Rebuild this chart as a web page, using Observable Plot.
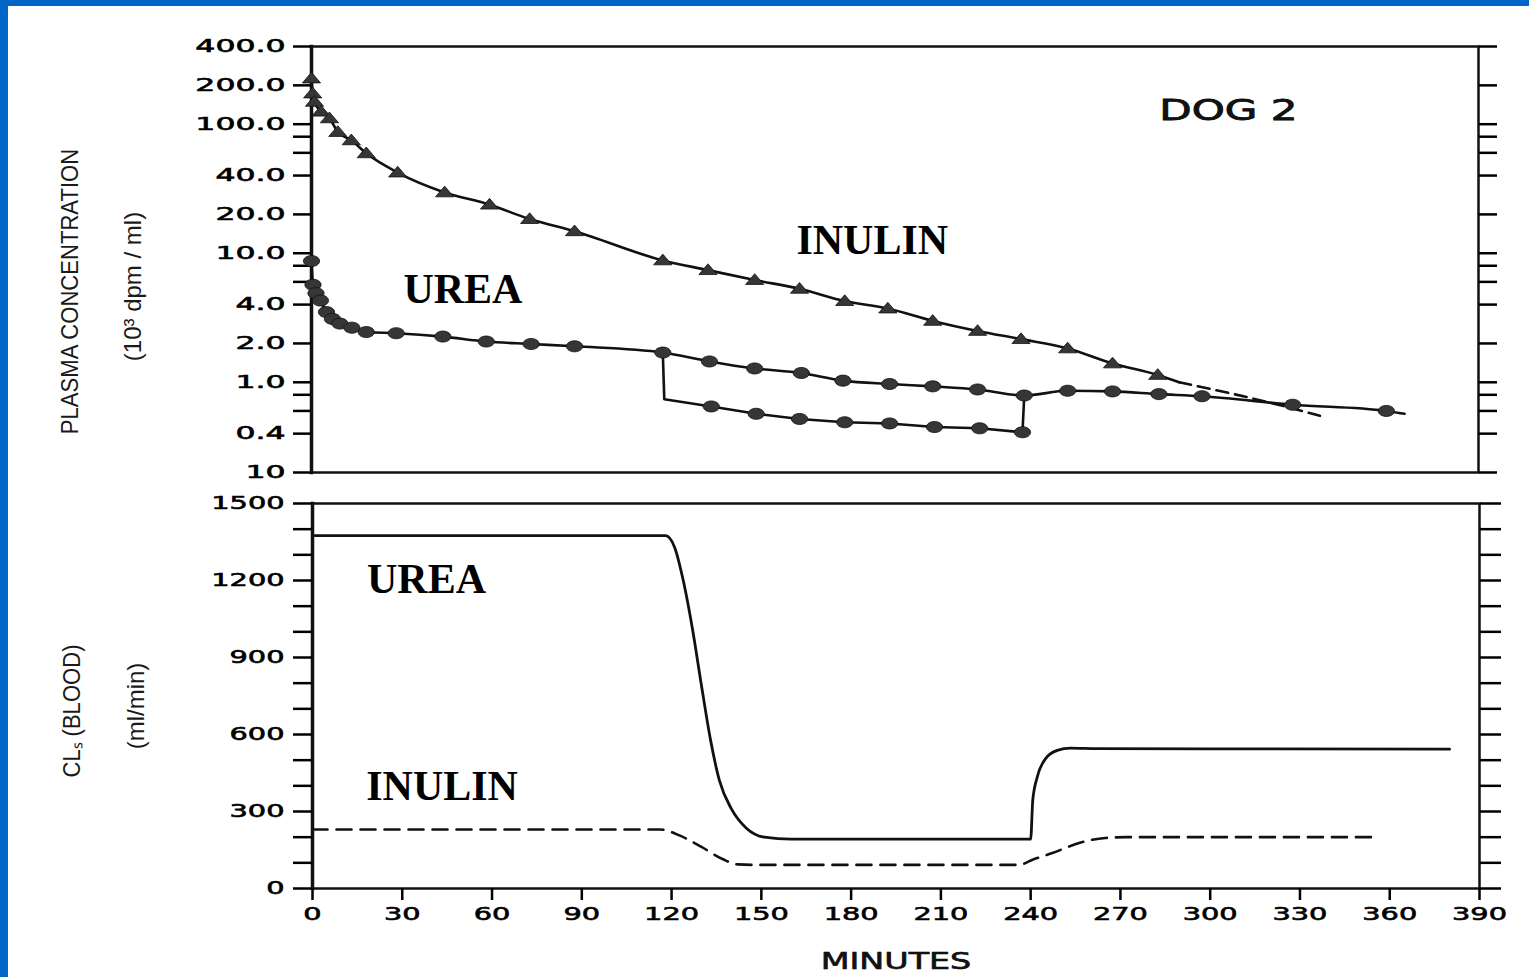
<!DOCTYPE html>
<html>
<head>
<meta charset="utf-8">
<script src="https://cdn.jsdelivr.net/npm/d3@7"></script>
<script src="https://cdn.jsdelivr.net/npm/@observablehq/plot@0.6"></script>
<style>
  body { margin: 0; background: #fff; }
  #page { position: relative; width: 1529px; height: 977px; overflow: hidden; background: #fff; }
  .edge { position: absolute; background: #0064c8; }
  #top, #bottom { position: absolute; left: 0; }
  #top { top: 0; }
  #bottom { top: 490px; }
  svg { display: block; overflow: visible; }
</style>
</head>
<body>
<div id="page">
  <div id="top"></div>
  <div id="bottom"></div>
  <div class="edge" style="left:0;top:0;width:8px;height:977px"></div>
  <div class="edge" style="left:0;top:0;width:1529px;height:6px"></div>
</div>
<script>
// ---- Axis ticks -----------------------------------------------------------
const minuteTicks = [0, 30, 60, 90, 120, 150, 180, 210, 240, 270, 300, 330, 360, 390];
const concTicks = [400, 200, 100, 40, 20, 10, 4, 2, 1, 0.4, 0.2];
const concTickLabels = ["400.0", "200.0", "100.0", "40.0", "20.0", "10.0", "4.0", "2.0", "1.0", "0.4", "10"];
const concMinorTicks = [80, 60, 8, 6, 0.8, 0.6];
const clearanceTicks = [0, 100, 200, 300, 400, 500, 600, 700, 800, 900, 1000, 1100, 1200, 1300, 1400, 1500];
const clearanceLabelTicks = [0, 300, 600, 900, 1200, 1500];

// ---- Plasma concentration (10^3 dpm/ml) -------------------------------------
// Inulin samples (triangles)
const inulinTime = [0, 0.4, 1, 3.2, 6, 8.8, 13.3, 18.3, 28.8, 44.5, 59.5, 72.9, 87.9, 117.4, 132.5, 148.1, 163.1, 178.2, 192.6, 207.6, 222.6, 237.1, 252.7, 267.7, 282.8];
const inulinConc = [226, 173, 149, 125, 111, 87, 75, 59.5, 42.2, 29.6, 23.8, 18.4, 14.8, 8.8, 7.4, 6.2, 5.3, 4.26, 3.73, 2.99, 2.5, 2.16, 1.83, 1.4, 1.14];
// end of the solid inulin fit, then its dashed extrapolation
const inulinFitEndTime = [290];
const inulinFitEndConc = [1.0];
const inulinExtrapTime = [290, 322, 337];
const inulinExtrapConc = [1.0, 0.68, 0.55];

// Urea samples (circles): first 2 h
const ureaTime = [0, 0.5, 1.5, 3, 5, 7, 9.5, 13.5, 18.3, 28.3, 43.9, 58.4, 73.4, 87.9, 117.4];
const ureaConc = [8.7, 5.7, 4.9, 4.3, 3.5, 3.1, 2.85, 2.65, 2.45, 2.4, 2.26, 2.07, 1.98, 1.9, 1.7];
// 120–240 min, upper branch
const ureaHighTime = [133, 148.1, 163.7, 177.6, 193.2, 207.6, 222.6, 238.2];
const ureaHighConc = [1.45, 1.28, 1.18, 1.03, 0.97, 0.93, 0.88, 0.79];
// 120–240 min, lower branch (drops at 120 min, rejoins at 240 min)
const ureaLowDropTime = [117.9];
const ureaLowDropConc = [0.74];
const ureaLowTime = [133.6, 148.6, 163.1, 178.2, 193.2, 208.2, 223.3, 237.6];
const ureaLowConc = [0.65, 0.57, 0.52, 0.49, 0.48, 0.45, 0.44, 0.41];
// after 240 min
const ureaLateTime = [252.7, 267.7, 283.2, 297.6, 327.9, 359.2];
const ureaLateConc = [0.86, 0.85, 0.81, 0.78, 0.67, 0.6];
const ureaLineEndTime = [365.3];
const ureaLineEndConc = [0.57];

// ---- Blood clearance (ml/min) ------------------------------------------------
const ureaClTime = [0, 118, 121, 124, 127, 130, 133, 136, 140, 145, 151, 160, 240, 240.7, 242.2, 245, 248.9, 253.3, 262, 380];
const ureaClValue = [1375, 1375, 1330, 1195, 1010, 790, 580, 420, 310, 235, 200, 192, 192, 343, 434, 506, 538, 547, 545, 543];
const inulinClTime = [0, 116, 123, 130, 137, 142, 148, 236, 241, 247, 257, 265, 272, 355];
const inulinClValue = [230, 230, 205, 162, 115, 94, 92, 92, 114, 137, 180, 197, 200, 200];

// ---- Annotations -------------------------------------------------------------
const topNotes = [
  {text: "UREA", t: 50.6, c: 5.25},
  {text: "INULIN", t: 187.4, c: 12.5}
];
const topTag = [{text: "DOG 2", t: 306.4, c: 128}];
const bottomNotes = [
  {text: "UREA", t: 38.1, v: 1203},
  {text: "INULIN", t: 43.3, v: 398}
];

// ---- helpers -------------------------------------------------------------------
const pts = (ts, cs) => ts.map((t, i) => ({t, c: cs[i]}));
const ink = "#111";
const dotFill = "#363636";

// flattened marker shapes
const ellipse = {
  draw(ctx, size) {
    const r = Math.sqrt(size / Math.PI), rx = r * 1.25, ry = r * 0.85, k = 0.5523;
    ctx.moveTo(rx, 0);
    ctx.bezierCurveTo(rx, ry * k, rx * k, ry, 0, ry);
    ctx.bezierCurveTo(-rx * k, ry, -rx, ry * k, -rx, 0);
    ctx.bezierCurveTo(-rx, -ry * k, -rx * k, -ry, 0, -ry);
    ctx.bezierCurveTo(rx * k, -ry, rx, -ry * k, rx, 0);
    ctx.closePath();
  }
};
const flatTriangle = {
  draw(ctx, size) {
    const r = Math.sqrt(size / Math.PI), w = r * 1.3, h = r * 0.9;
    ctx.moveTo(0, -h);
    ctx.lineTo(w, h * 0.7);
    ctx.lineTo(-w, h * 0.7);
    ctx.closePath();
  }
};

// scale text about its anchor: sx along the baseline, sy across it
function stretch(nodes, sx, sy = 1) {
  nodes.forEach(node => {
    const t = node.getAttribute("transform") || "";
    const x = +node.getAttribute("x") || 0;
    const y = +node.getAttribute("y") || 0;
    node.setAttribute("transform", `${t} translate(${x},${y}) scale(${sx},${sy}) translate(${-x},${-y})`);
  });
}
function pick(svg, filter) {
  return Array.from(svg.querySelectorAll("text")).filter(filter);
}
function embolden(nodes, w) {
  nodes.forEach(node => {
    node.setAttribute("stroke", "#000");
    node.setAttribute("stroke-width", w);
    node.setAttribute("paint-order", "stroke");
  });
}

const inulin = pts(inulinTime, inulinConc);
const inulinSolid = inulin.concat(pts(inulinFitEndTime, inulinFitEndConc));
const inulinDashed = pts(inulinExtrapTime, inulinExtrapConc);
const ureaEarly = pts(ureaTime, ureaConc);
const ureaHigh = pts(ureaHighTime, ureaHighConc);
const ureaLow = pts(ureaLowTime, ureaLowConc);
const ureaLate = pts(ureaLateTime, ureaLateConc);
const ureaMainPath = ureaEarly.concat(ureaHigh, ureaLate, pts(ureaLineEndTime, ureaLineEndConc));
const ureaLowPath = [ureaEarly[ureaEarly.length - 1]]
  .concat(pts(ureaLowDropTime, ureaLowDropConc), ureaLow, [ureaHigh[ureaHigh.length - 1]]);
const ureaDots = ureaEarly.concat(ureaHigh, ureaLow, ureaLate);

const baseStyle = {background: "transparent", color: "#000", fontFamily: "DejaVu Sans", fontSize: "18px", overflow: "visible"};
const sideLabel = {frameAnchor: "left", rotate: -90, textAnchor: "middle", fontFamily: "Liberation Sans", fill: "#1a1a1a"};

// ---- top panel: plasma concentration (log) -----------------------------------
const topPlot = Plot.plot({
  width: 1529, height: 490,
  marginLeft: 311, marginRight: 51, marginTop: 46, marginBottom: 18,
  style: baseStyle,
  x: {domain: [0, 390], axis: null},
  y: {type: "log", domain: [0.2, 400]},
  marks: [
    Plot.frame({stroke: ink, strokeWidth: 2.5}),
    Plot.frame({anchor: "left", stroke: ink, strokeWidth: 3.5}),
    Plot.axisY(concTicks, {anchor: "left", tickSize: 18, tickPadding: 8, strokeWidth: 2.5, fontSize: 18,
      tickFormat: d => concTickLabels[concTicks.indexOf(d)], label: null}),
    Plot.axisY(concMinorTicks, {anchor: "left", tickSize: 18, strokeWidth: 2.5, tickFormat: () => "", label: null}),
    Plot.axisY(concTicks.concat(concMinorTicks), {anchor: "right", tickSize: 18, strokeWidth: 2.5, tickFormat: () => "", label: null}),
    // data
    Plot.line(inulinSolid, {x: "t", y: "c", curve: "monotone-x", stroke: ink, strokeWidth: 2.6}),
    Plot.line(inulinDashed, {x: "t", y: "c", curve: "monotone-x", stroke: ink, strokeWidth: 2.6, strokeDasharray: "12,7"}),
    Plot.line(ureaMainPath, {x: "t", y: "c", curve: "monotone-x", stroke: ink, strokeWidth: 2.6}),
    Plot.line(ureaLowPath, {x: "t", y: "c", stroke: ink, strokeWidth: 2.6}),
    Plot.dot(inulin, {x: "t", y: "c", symbol: flatTriangle, r: 7, fill: dotFill, stroke: ink, strokeWidth: 0.8}),
    Plot.dot(ureaDots, {x: "t", y: "c", symbol: ellipse, r: 6.5, fill: dotFill, stroke: ink, strokeWidth: 0.8}),
    // labels
    Plot.text(topNotes, {x: "t", y: "c", text: "text", fontFamily: "Liberation Serif", fontWeight: "bold", fontSize: 42, fill: "#000"}),
    Plot.text(topTag, {x: "t", y: "c", text: "text", fontFamily: "DejaVu Sans", fontSize: 29, fill: "#111"}),
    Plot.text(["PLASMA CONCENTRATION"], {...sideLabel, dx: -241, dy: 32, fontSize: 24}),
    Plot.text(["(10³ dpm / ml)"], {...sideLabel, dx: -178, dy: 27, fontSize: 24})
  ]
});
document.getElementById("top").append(topPlot);
const topTickText = pick(topPlot, n => concTickLabels.includes(n.textContent));
stretch(topTickText, 1.75);
embolden(topTickText, 0.6);
const dogText = pick(topPlot, n => n.textContent === "DOG 2");
stretch(dogText, 1.45);
embolden(dogText, 0.8);
stretch(pick(topPlot, n => n.textContent === "PLASMA CONCENTRATION"), 0.92);

// ---- bottom panel: blood clearance --------------------------------------------
const bottomPlot = Plot.plot({
  width: 1529, height: 487,
  marginLeft: 312, marginRight: 50, marginTop: 13, marginBottom: 89,
  style: baseStyle,
  x: {domain: [0, 390]},
  y: {domain: [0, 1500]},
  marks: [
    Plot.frame({stroke: ink, strokeWidth: 2.5}),
    Plot.frame({anchor: "left", stroke: ink, strokeWidth: 3.5}),
    Plot.axisY(clearanceTicks, {anchor: "left", tickSize: 19, tickPadding: 9, strokeWidth: 2.5, fontSize: 18,
      tickFormat: d => clearanceLabelTicks.includes(d) ? String(d) : "", label: null}),
    Plot.axisY(clearanceTicks, {anchor: "right", tickSize: 21, strokeWidth: 2.5, tickFormat: () => "", label: null}),
    Plot.axisX(minuteTicks, {anchor: "bottom", tickSize: 12, tickPadding: 7, strokeWidth: 2.5, fontSize: 18,
      tickFormat: d => String(d), label: null}),
    Plot.line(pts(ureaClTime, ureaClValue), {x: "t", y: "c", curve: "monotone-x", stroke: ink, strokeWidth: 2.8}),
    Plot.line(pts(inulinClTime, inulinClValue), {x: "t", y: "c", curve: "monotone-x", stroke: ink, strokeWidth: 2.6, strokeDasharray: "15,9"}),
    Plot.text(bottomNotes, {x: "t", y: "v", text: "text", fontFamily: "Liberation Serif", fontWeight: "bold", fontSize: 42, fill: "#000"}),
    Plot.text(["CLₛ (BLOOD)"], {...sideLabel, dx: -240, dy: 15, fontSize: 24}),
    Plot.text(["(ml/min)"], {...sideLabel, dx: -176, dy: 10, fontSize: 24}),
    Plot.text(["MINUTES"], {frameAnchor: "bottom", dy: 80, fontFamily: "DejaVu Sans", fontSize: 23, fill: "#111"})
  ]
});
document.getElementById("bottom").append(bottomPlot);
const minuteLabels = minuteTicks.map(String);
const clearanceLabels = clearanceLabelTicks.map(String);
const bottomTickText = pick(bottomPlot, n => minuteLabels.includes(n.textContent) || clearanceLabels.includes(n.textContent));
stretch(bottomTickText, 1.6);
embolden(bottomTickText, 0.6);
const minutesText = pick(bottomPlot, n => n.textContent === "MINUTES");
stretch(minutesText, 1.45);
embolden(minutesText, 0.6);
stretch(pick(bottomPlot, n => n.textContent === "CLₛ (BLOOD)"), 0.92);
</script>
</body>
</html>
